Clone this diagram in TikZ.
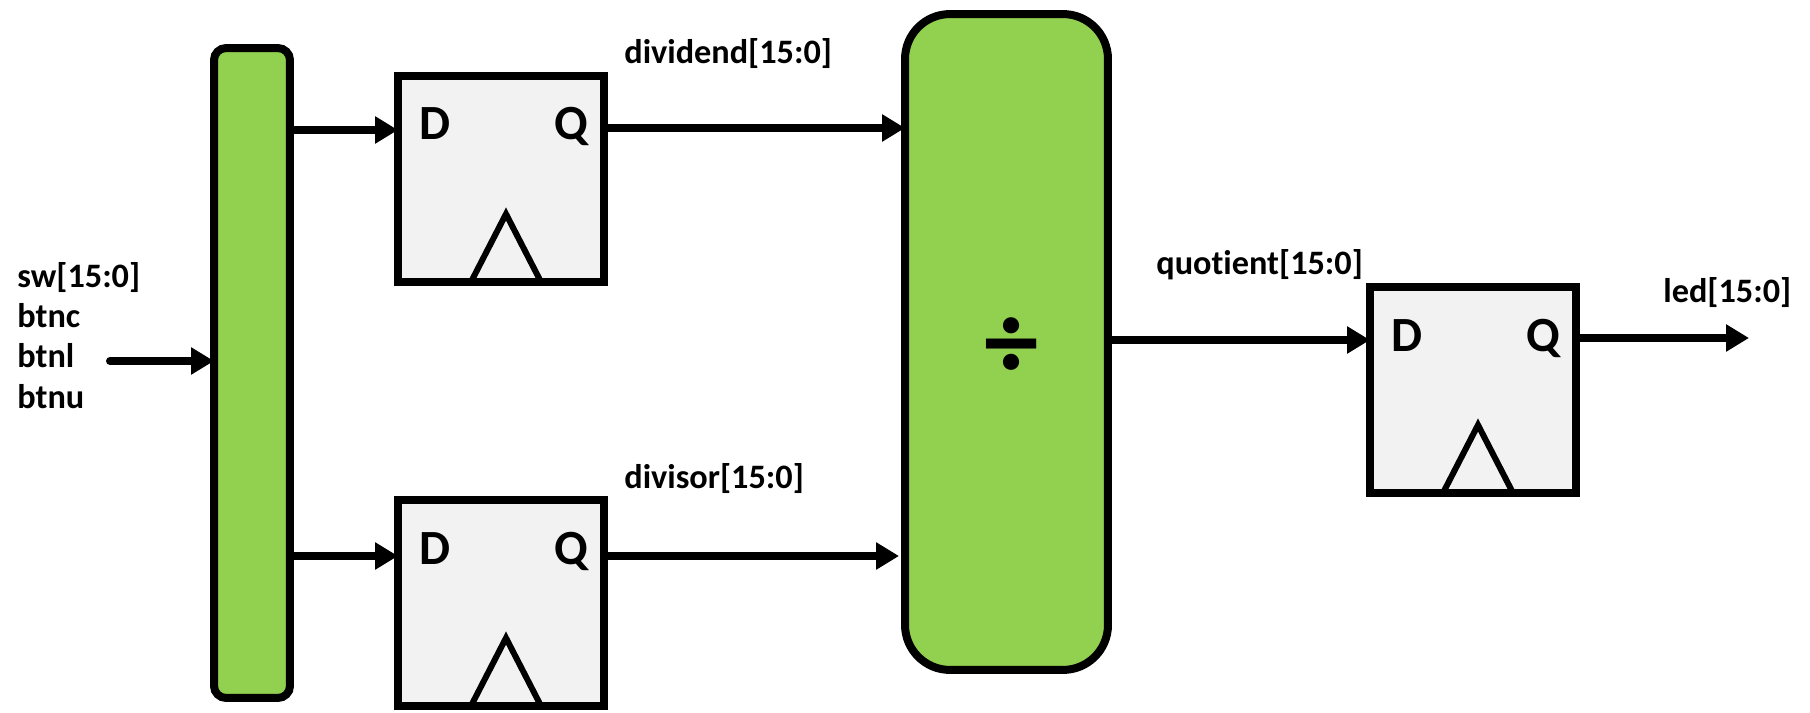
\documentclass[tikz,border=0pt]{standalone}
\usepackage{fontspec}
\setmainfont{Carlito}[Ligatures=NoCommon]
\usetikzlibrary{arrows.meta,calc}
\definecolor{blockgreen}{HTML}{92D050}
\definecolor{ffgray}{HTML}{F2F2F2}
\begin{document}
\begin{tikzpicture}[x=0.02cm, y=-0.02cm,
  bus/.style={draw=black, line width=0.16cm, fill=blockgreen, inner sep=0, outer sep=0},
  ffbox/.style={draw=black, line width=0.16cm, fill=ffgray, minimum width=4.12cm, minimum height=4.12cm, inner sep=0, outer sep=0},
  wire/.style={line width=0.16cm, -{Triangle[length=0.46cm,width=0.52cm]}},
  clk/.style={line width=0.12cm, line join=miter},
  sig/.style={font=\fontsize{19.5}{22}\selectfont\bfseries, inner sep=0, anchor=base west},
  pin/.style={font=\fontsize{28}{30}\selectfont\bfseries, inner sep=0, anchor=base},
]
\useasboundingbox (0,0) rectangle (1810,713);
% blocks
\node[bus, rounded corners=0.24cm, minimum width=1.52cm, minimum height=13cm] (bar) at (252,373) {};
\node[bus, rounded corners=0.9cm, minimum width=4.06cm, minimum height=13.12cm] (div) at (1006.5,342) {};
\node[font=\fontsize{62}{62}\selectfont\bfseries, inner sep=0] (divsym) at (1012,348) {÷};
\foreach \n/\x/\y in {ff1/501/179, ff2/501/603, ff3/1473/390}{
  \node[ffbox] (\n) at (\x,\y) {};
  \node[pin] (\n-D) at (\x-66,\y-39) {D};
  \node[pin] (\n-Q) at (\x+70,\y-39) {Q};
  \draw[clk] ($(\n.south)+(-30,0)$) -- ++(35,-68) -- ++(35,68);
}
% coordinates
\coordinate (in) at (110,361);
\coordinate (y1) at (0,130);
\coordinate (y2) at (0,556);
\coordinate (y3) at (0,128);
\coordinate (y4) at (0,340);
\coordinate (out) at (1749,338);
% wires
\draw[wire, line cap=round] (in) -- (in -| bar.west);
\draw[wire] (bar.east |- y1) -- (ff1.west |- y1);
\draw[wire] (bar.east |- y2) -- (ff2.west |- y2);
\draw[wire] (ff1.east |- y3) -- (div.west |- y3);
\draw[wire, shorten >=0.12cm] (ff2.east |- y2) -- (div.west |- y2);
\draw[wire] (div.east |- y4) -- (ff3.west |- y4);
\draw[wire] (ff3.east |- out) -- (out);
% labels
\node[sig] (lsw) at (17,287) {sw[15:0]};
\node[sig] (lbtnc) at (17,327) {btnc};
\node[sig] (lbtnl) at (17,367) {btnl};
\node[sig] (lbtnu) at (17,408) {btnu};
\node[sig] (ldividend) at (624,64) {dividend[15:0]};
\node[sig] (ldivisor) at (624,488) {divisor[15:0]};
\node[sig] (lquot) at (1156,275) {quotient[15:0]};
\node[sig] (lled) at (1663,302) {led[15:0]};
\end{tikzpicture}
\end{document}
